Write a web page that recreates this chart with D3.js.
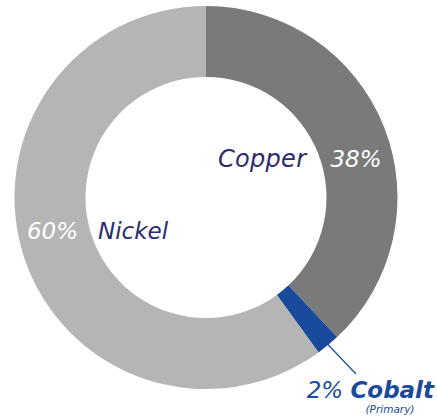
<!DOCTYPE html>
<html>
<head>
<meta charset="utf-8">
<script src="https://cdn.jsdelivr.net/npm/d3@7"></script>
<style>
  body { margin: 0; background: #fff; }
  text { font-family: "DejaVu Sans", sans-serif; font-style: italic; }
</style>
</head>
<body>
<div id="chart"></div>
<script>
// Data
const metals = ["Copper", "Cobalt", "Nickel"];
const shares = [38, 2, 60];
const colors = ["#7a7a7a", "#1a4a9c", "#b5b5b5"];

const width = 437, height = 420;
const cx = 206, cy = 197.5;
const outerR = 191.5, innerR = 120.5;

const svg = d3.select("#chart").append("svg")
    .attr("width", width)
    .attr("height", height);

const g = svg.append("g")
    .attr("transform", `translate(${cx},${cy})`);

const data = metals.map((m, i) => ({ name: m, value: shares[i], color: colors[i] }));

const pie = d3.pie().sort(null).value(d => d.value);
const arc = d3.arc().innerRadius(innerR).outerRadius(outerR);
const arcs = pie(data);

g.selectAll("path")
    .data(arcs)
    .enter()
    .append("path")
    .attr("d", arc)
    .attr("fill", d => d.data.color);

// Copper labels
const copper = arcs[0], nickel = arcs[2], cobalt = arcs[1];
g.append("text")
    .attr("x", 100).attr("y", -31)
    .attr("text-anchor", "end")
    .attr("fill", "#2d2a6e")
    .attr("font-size", 24)
    .attr("textLength", 88)
    .text(copper.data.name);
g.append("text")
    .attr("x", 150).attr("y", -31)
    .attr("text-anchor", "middle")
    .attr("fill", "#fff")
    .attr("font-size", 23)
    .text(copper.data.value + "%");

// Nickel labels
g.append("text")
    .attr("x", -108).attr("y", 41)
    .attr("text-anchor", "start")
    .attr("fill", "#2d2a6e")
    .attr("font-size", 23)
    .text(nickel.data.name);
g.append("text")
    .attr("x", -153.5).attr("y", 41)
    .attr("text-anchor", "middle")
    .attr("fill", "#fff")
    .attr("font-size", 23)
    .text(nickel.data.value + "%");

// Cobalt leader + label
const mid = (cobalt.startAngle + cobalt.endAngle) / 2;
const p0 = [Math.sin(mid) * (outerR - 4), -Math.cos(mid) * (outerR - 4)];
g.append("line")
    .attr("x1", p0[0]).attr("y1", p0[1])
    .attr("x2", 150).attr("y2", 176.5)
    .attr("stroke", "#1a4a9c")
    .attr("stroke-width", 1.2);

const lbl = g.append("text")
    .attr("x", 228).attr("y", 200.5)
    .attr("text-anchor", "end")
    .attr("fill", "#1a4a9c")
    .attr("font-size", 23);
lbl.append("tspan").text(cobalt.data.value + "% ");
lbl.append("tspan").attr("font-weight", "bold").text(cobalt.data.name);

g.append("text")
    .attr("x", 184).attr("y", 215)
    .attr("text-anchor", "middle")
    .attr("fill", "#1a4a9c")
    .attr("font-size", 10.5)
    .text("(Primary)");
</script>
</body>
</html>
